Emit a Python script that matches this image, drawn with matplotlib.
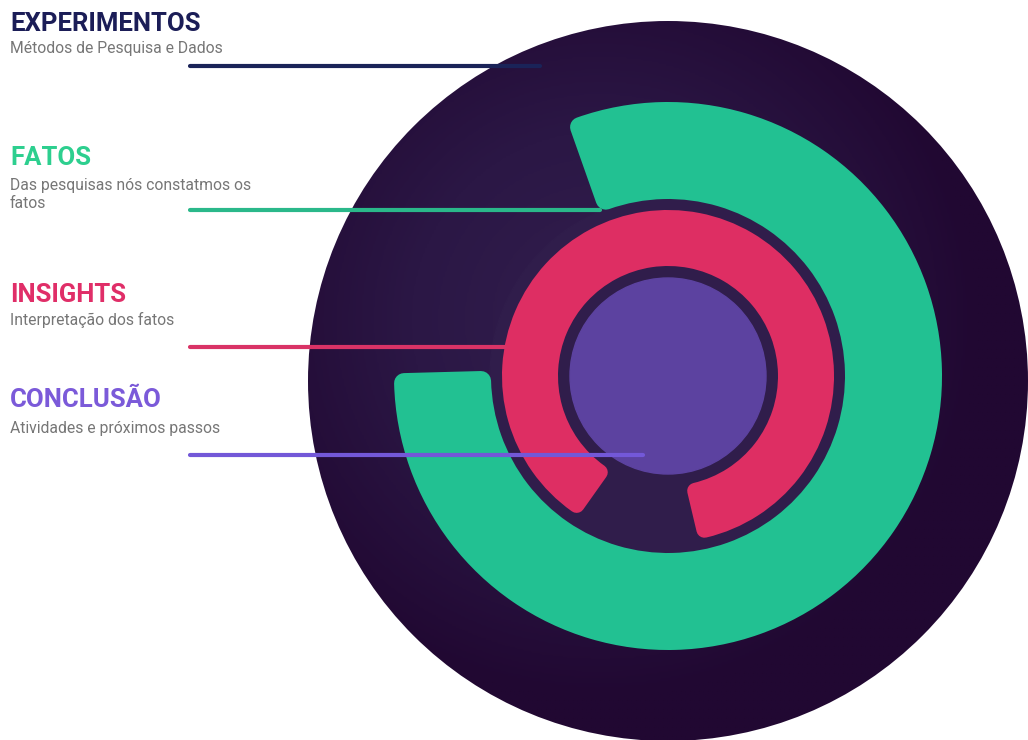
import numpy as np
import matplotlib
matplotlib.use('Agg')
import matplotlib.pyplot as plt
from matplotlib.patches import Circle, Wedge
from matplotlib.colors import LinearSegmentedColormap

# ---- content ----
TITLES = ['EXPERIMENTOS', 'FATOS', 'INSIGHTS', 'CONCLUSÃO']
SUBTITLES = [
    ['Métodos de Pesquisa e Dados'],
    ['Das pesquisas nós constatmos os', 'fatos'],
    ['Interpretação dos fatos'],
    ['Atividades e próximos passos'],
]
TITLE_COLORS = ['#1b1d57', '#2dcf8f', '#e02e68', '#7b5ad9']
LINE_COLORS = ['#1a2358', '#2ab88a', '#d93366', '#7358d8']

# arcs of the rings, degrees counter-clockwise from 3 o'clock
GREEN_ARC = (179, 472)
PINK_ARC = (-80, 238)

W, H = 1028, 740
DPI = 100


def py(y):
    # pixel row (from top) -> data y
    return H - y


def rounded_arc(ax, center, r_in, r_out, t1, t2, color, rc, z):
    rm = (r_in + r_out) / 2
    dt = np.degrees(rc / rm)
    w = Wedge(center, r_out - rc, t1 + dt, t2 - dt, width=r_out - r_in - 2 * rc,
              facecolor=color, edgecolor=color, linewidth=2 * rc * 72 / DPI,
              joinstyle='round', zorder=z)
    ax.add_patch(w)


def main():
    plt.rcParams['font.family'] = ['Roboto', 'DejaVu Sans']
    fig = plt.figure(figsize=(W / DPI, H / DPI), dpi=DPI)
    ax = fig.add_axes([0, 0, 1, 1])
    ax.set_xlim(0, W)
    ax.set_ylim(0, H)
    ax.axis('off')

    # ── big dark disc with a soft radial gradient ──
    bc = (668, py(381))
    R = 360
    n = 400
    xs = np.linspace(bc[0] - R, bc[0] + R, n)
    ys = np.linspace(bc[1] - R, bc[1] + R, n)
    gx, gy = np.meshgrid(xs, ys)
    d = np.hypot(gx - 600, gy - py(320)) / (R * 1.05)
    cmap = LinearSegmentedColormap.from_list('bg', ['#321e4e', '#2b1745', '#210832'])
    img = ax.imshow(np.clip(d, 0, 1), cmap=cmap, vmin=0, vmax=1, origin='lower',
                    extent=[bc[0] - R, bc[0] + R, bc[1] - R, bc[1] + R], zorder=1)
    clip = Circle(bc, R, transform=ax.transData)
    img.set_clip_path(clip)

    # ── rings ──
    c = (668, py(376))
    ax.add_patch(Circle(c, 178, color='#301d4b', zorder=2))
    rounded_arc(ax, c, 177, 274, GREEN_ARC[0], GREEN_ARC[1], '#22c192', 10, 3)
    rounded_arc(ax, c, 110, 166, PINK_ARC[0], PINK_ARC[1], '#de2e63', 8, 3)
    ax.add_patch(Circle(c, 98, color='#5c42a0', zorder=4))

    # ── labels and leader lines ──
    title_base = [31, 165, 302, 407]
    sub_base = [53, 190, 325, 433]
    line_y = [66, 210, 347, 455]
    line_end = [540, 600, 505, 643]
    for i, t in enumerate(TITLES):
        ax.text(10, py(title_base[i]), t, fontsize=18.5, fontweight='bold',
                color=TITLE_COLORS[i], va='baseline', ha='left', zorder=6)
        for k, s in enumerate(SUBTITLES[i]):
            ax.text(10, py(sub_base[i] + 18 * k), s, fontsize=11.3,
                    color='#767676', va='baseline', ha='left', zorder=6)
        ax.plot([190, line_end[i]], [py(line_y[i])] * 2, color=LINE_COLORS[i],
                lw=3, solid_capstyle='round', zorder=5)

    fig.savefig('out.png', dpi=DPI)
    plt.close(fig)


if __name__ == '__main__':
    main()
